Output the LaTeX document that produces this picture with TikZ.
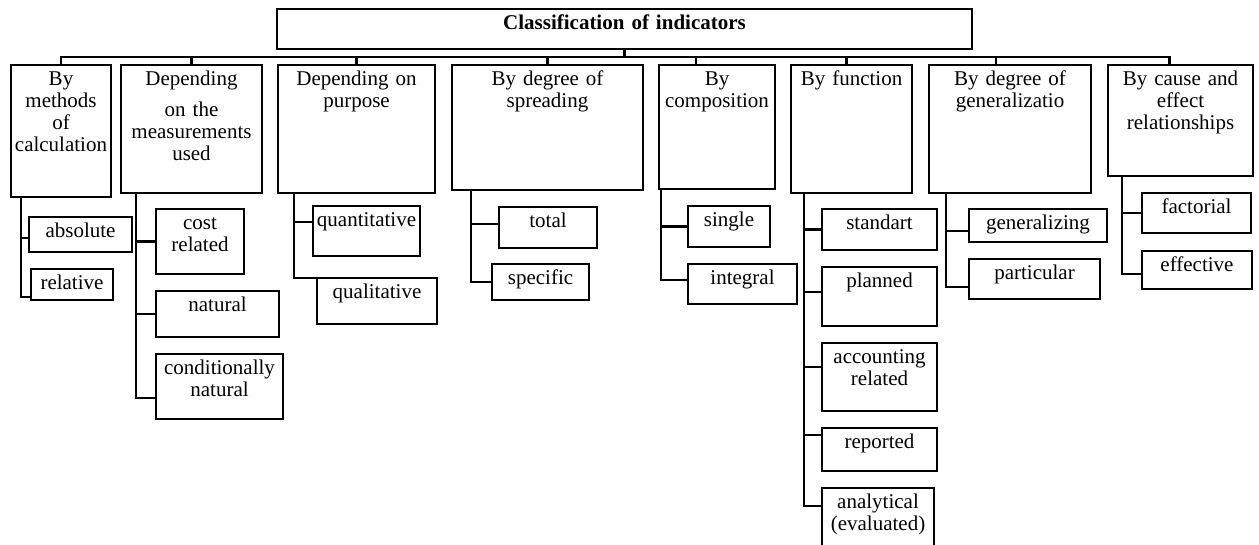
\documentclass[tikz,border=0pt]{standalone}
\usepackage{fontspec}
\setmainfont{Liberation Serif}
\begin{document}
\begin{tikzpicture}[x=1pt,y=-1pt,
        font=\fontsize{21}{22}\selectfont,
        cell/.style={draw,line width=2.8pt,anchor=north west,outer sep=0pt,
            inner xsep=2pt,inner ysep=5pt,align=center,text height=15pt},
        link/.style={line width=2.8pt}]
    \clip (0,0) rectangle (1259,544);
    % Heading
    \node[cell,text width=691pt,minimum height=40pt,text depth=15pt,
        font=\fontsize{21}{22}\selectfont\bfseries] (top) at (277,9) {Classification of indicators};
    % Groups
    \node[cell,text width=96pt,minimum height=132pt,text depth=107pt] (m1) at (11,65) {By\\methods\\of\\calculation};
    \node[cell,text width=137pt,minimum height=128pt,text depth=103pt] (m2) at (121,65) {Depending\\[9pt]on the\\measurements\\used};
    \node[cell,text width=153pt,minimum height=128pt,text depth=103pt] (m3) at (278,65) {Depending on\\purpose};
    \node[cell,text width=187pt,minimum height=125pt,text depth=100pt] (m4) at (452,65) {By degree of\\spreading};
    \node[cell,text width=112pt,minimum height=124pt,text depth=99pt] (m5) at (659,65) {By\\composition};
    \node[cell,text width=117pt,minimum height=128pt,text depth=103pt] (m6) at (791,65) {By function};
    \node[cell,text width=158pt,minimum height=128pt,text depth=103pt] (m7) at (929,65) {By degree of\\generalizatio};
    \node[cell,text width=141pt,minimum height=111pt,text depth=86pt] (m8) at (1108,65) {By cause and\\effect\\relationships};
    % Kinds
    \node[cell,text width=99pt,minimum height=35pt,text depth=10pt] (abs) at (29,217) {absolute};
    \node[cell,text width=78pt,minimum height=31pt,text depth=6pt] (rel) at (31,269) {relative};
    \node[cell,text width=84pt,minimum height=65pt,text depth=40pt] (cost) at (156,209) {cost\\related};
    \node[cell,text width=119pt,minimum height=46pt,text depth=21pt] (nat) at (156,291) {natural};
    \node[cell,text width=123pt,minimum height=65pt,text depth=40pt] (cond) at (156,354) {conditionally\\natural};
    \node[cell,text width=103pt,minimum height=50pt,text depth=25pt] (quan) at (313,206) {quantitative};
    \node[cell,text width=116pt,minimum height=46pt,text depth=21pt] (qual) at (317,278) {qualitative};
    \node[cell,text width=94pt,minimum height=41pt,text depth=16pt] (tot) at (499,207) {total};
    \node[cell,text width=93pt,minimum height=36pt,text depth=11pt] (spec) at (492,264) {specific};
    \node[cell,text width=78pt,minimum height=41pt,text depth=16pt] (sing) at (688,206) {single};
    \node[cell,text width=105pt,minimum height=40pt,text depth=15pt] (integ) at (688,264) {integral};
    \node[cell,text width=111pt,minimum height=41pt,text depth=16pt] (std) at (822,209) {standart};
    \node[cell,text width=111pt,minimum height=59pt,text depth=34pt] (plan) at (822,267) {planned};
    \node[cell,text width=111pt,minimum height=68pt,text depth=43pt] (acc) at (822,343) {accounting\\related};
    \node[cell,text width=111pt,minimum height=43pt,text depth=18pt] (rep) at (822,428) {reported};
    \node[cell,text width=108pt,minimum height=70pt,text depth=45pt] (ana) at (822,488) {analytical\\(evaluated)};
    \node[cell,text width=134pt,minimum height=33pt,text depth=8pt] (gen) at (969,209) {generalizing};
    \node[cell,text width=127pt,minimum height=40pt,text depth=15pt] (part) at (969,259) {particular};
    \node[cell,text width=105pt,minimum height=40pt,text depth=15pt] (fact) at (1142,193) {factorial};
    \node[cell,text width=106pt,minimum height=38pt,text depth=13pt] (eff) at (1142,251) {effective};
    % Bus from heading
    \foreach \m/\dx in {m1/0,m2/0,m3/0,m4/0,m5/-21,m6/-5,m7/-14,m8/-11}
        \draw[link] (top.south) -- ++(0,8) -| ([xshift=\dx pt]\m.north);
    % Branches
    \foreach \c/\dy in {abs/-3.5,rel/-12.5}
        \draw[link] ([xshift=10pt]m1.south west) |- ([yshift=\dy pt]\c.west);
    \foreach \c/\dy in {cost/0,nat/0,cond/-11.5}
        \draw[link] ([xshift=15pt]m2.south west) |- ([yshift=\dy pt]\c.west);
    \foreach \c/\dy in {quan/9,qual/23}
        \draw[link] ([xshift=16pt]m3.south west) |- ([yshift=\dy pt]\c.west);
    \foreach \c/\dy in {tot/3.5,spec/0}
        \draw[link] ([xshift=19pt]m4.south west) |- ([yshift=\dy pt]\c.west);
    \foreach \c/\dy in {sing/0,integ/4}
        \draw[link] ([xshift=2pt]m5.south west) |- ([yshift=\dy pt]\c.west);
    \foreach \c/\dy in {std/0,plan/4.5,acc/10,rep/14.5,ana/17}
        \draw[link] ([xshift=13pt]m6.south west) |- ([yshift=\dy pt]\c.west);
    \foreach \c/\dy in {gen/-5.5,part/-8}
        \draw[link] ([xshift=17pt]m7.south west) |- ([yshift=\dy pt]\c.west);
    \foreach \c/\dy in {fact/0,eff/-4}
        \draw[link] ([xshift=14pt]m8.south west) |- ([yshift=\dy pt]\c.west);
\end{tikzpicture}
\end{document}
